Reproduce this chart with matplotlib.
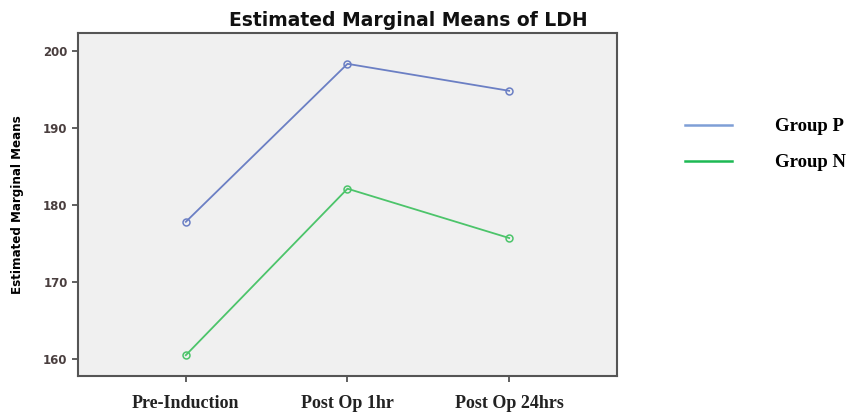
import matplotlib
matplotlib.use('Agg')
import matplotlib.pyplot as plt
from matplotlib.lines import Line2D

# Data
time_points = ['Pre-Induction', 'Post Op 1hr', 'Post Op 24hrs']
group_p = [177.8, 198.3, 194.8]
group_n = [160.5, 182.1, 175.7]
y_ticks = [160, 170, 180, 190, 200]

color_p = '#6b7fc4'
color_n = '#4cc46a'

fig = plt.figure(figsize=(8.56, 4.12), dpi=100)
ax = fig.add_axes([0.0911, 0.0874, 0.6297, 0.8325])
ax.set_facecolor('#f0f0f0')

x = list(range(len(time_points)))
ax.plot(x, group_p, color=color_p, lw=1.3, marker='o', ms=5,
        mfc='none', mec=color_p, mew=1.1)
ax.plot(x, group_n, color=color_n, lw=1.3, marker='o', ms=5,
        mfc='none', mec=color_n, mew=1.1)

ax.set_xlim(-0.667, 2.667)
ax.set_ylim(157.8, 202.3)
ax.set_xticks(x)
ax.set_xticklabels(time_points, family='Liberation Serif', fontsize=13,
                   fontweight='bold', color='#222222')
ax.set_yticks(y_ticks)
ax.set_yticklabels([str(v) for v in y_ticks], fontsize=8.5, fontweight='bold',
                   color='#4a3f3f')
ax.tick_params(axis='both', direction='out', length=4, width=1.2,
               color='#444444')
ax.tick_params(axis='x', pad=10)
for side in ax.spines.values():
    side.set_color('#555555')
    side.set_linewidth(1.5)

# title is centred over the whole chart area, as in the reference
fig.text(0.477, 1 - 20 / 412, 'Estimated Marginal Means of LDH',
         fontsize=13.5, fontweight='bold', ha='center', va='center',
         color='#111111')
ax.set_ylabel('Estimated Marginal Means', fontsize=9.5, fontweight='bold',
              family='DejaVu Sans', fontstretch='condensed', labelpad=14)

handles = [Line2D([0], [0], color='#7f9fd6', lw=1.8),
           Line2D([0], [0], color='#1db954', lw=1.8)]
fig.legend(handles, ['Group P', 'Group N'], loc='upper left',
           bbox_to_anchor=(685 / 856, 0.713), frameon=False,
           borderpad=0, borderaxespad=0, handlelength=2.5,
           handletextpad=2.3, labelspacing=1.0,
           prop={'family': 'Liberation Serif', 'size': 13.5,
                 'weight': 'bold'})

fig.savefig('out.png', dpi=100)
